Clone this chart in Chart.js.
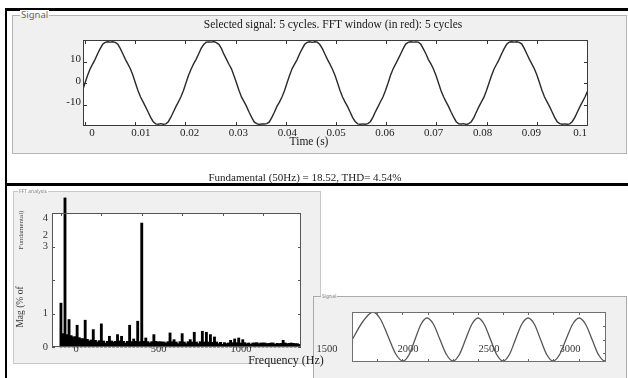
<!DOCTYPE html>
<html><head><meta charset="utf-8">
<script src="https://cdn.jsdelivr.net/npm/chart.js@4.4.1/dist/chart.umd.min.js"></script>
<style>
html,body{margin:0;padding:0;background:#fff;}
#root{position:relative;width:628px;height:378px;overflow:hidden;background:#fff;}
.blk{position:absolute;background:#000;}
.panel{position:absolute;box-sizing:border-box;background:#f0f0f0;}
.txt{position:absolute;white-space:nowrap;font-family:"Liberation Serif","Times New Roman",serif;color:#1a1a1a;transform:translate(-50%,-50%);line-height:1;}
.leg{position:absolute;white-space:nowrap;font-family:"Noto Sans","DejaVu Sans",sans-serif;color:#555;line-height:1;padding:0 1px;}
canvas{position:absolute;}
</style></head><body><div id="root">

<div class="blk" style="left:5px;top:8px;width:623px;height:3px"></div>
<div class="blk" style="left:5px;top:8px;width:2px;height:370px"></div>

<div class="panel" style="left:12px;top:15px;width:615px;height:139px;border:1px solid #b4b4b4;"></div>
<div class="leg" style="left:20px;top:10px;font-size:9.5px;color:#666;background:linear-gradient(#fff 50%,#f0f0f0 50%);">Signal</div>
<canvas id="c1" width="616" height="139" style="left:12px;top:15px;"></canvas>
<div class="txt" style="left:333px;top:25px;font-size:11.5px;">Selected signal: 5 cycles. FFT window (in red): 5 cycles</div>
<div class="txt" style="left:309px;top:142px;font-size:11.5px;">Time (s)</div>
<div class="txt" style="left:305px;top:177px;font-size:11px;">Fundamental (50Hz) = 18.52, THD= 4.54%</div>

<div class="blk" style="left:5px;top:183px;width:623px;height:3px"></div>

<div class="panel" style="left:13px;top:191px;width:308px;height:173px;border:1px solid #c8c8c8;z-index:1;"></div>
<div class="leg" style="left:18px;top:189px;font-size:5px;color:#888;background:linear-gradient(#fff 50%,#f0f0f0 50%);z-index:1;">FFT analysis</div>

<div class="panel" style="left:313px;top:296px;width:314px;height:90px;border:1px solid #aaa;z-index:2;"></div>
<div class="leg" style="left:321px;top:294px;font-size:5px;color:#888;background:linear-gradient(#fff 50%,#f0f0f0 50%);z-index:2;">Signal</div>
<canvas id="c3" width="315" height="82" style="left:313px;top:296px;z-index:3;"></canvas>

<canvas id="c2" width="330" height="179" style="left:13px;top:191px;z-index:4;"></canvas>
<div class="txt" style="left:286px;top:360px;font-size:12px;z-index:5;color:#222;">Frequency (Hz)</div>
<div class="txt" style="left:21px;top:307px;font-size:9.5px;z-index:5;color:#333;transform:translate(-50%,-50%) rotate(-90deg);">Mag (% of</div>
<div class="txt" style="left:21px;top:230px;font-size:7px;z-index:5;color:#444;transform:translate(-50%,-50%) rotate(-90deg);">Fundamental)</div>

</div>
<script>
// ---------- Top chart: selected signal ----------
const signalTimeStart = -0.000503;
const signalTimeStep = 0.000503;
const signalValues = [
 -3.6,
 0.0, 3.5, 6.5, 8.8, 11.0, 13.6, 16.0, 18.0, 18.9, 19.2, 19.0, 19.2, 18.9, 18.0, 16.0, 13.5, 11.0, 8.8, 6.5, 3.5,
 -0.1, -3.6, -6.5, -8.8, -11.1, -13.5, -16.0, -18.0, -19.0, -19.2, -18.9, -19.2, -19.0, -18.0, -15.9, -13.5, -11.0, -8.8, -6.4, -3.5,
 0.1, 3.6, 6.4, 8.9, 11.0, 13.5, 16.1, 17.9, 19.0, 19.1, 19.0, 19.3, 18.8, 18.0, 16.1, 13.4, 11.1, 8.7, 6.6, 3.4,
 0.0, -3.5, -6.6, -8.7, -11.0, -13.6, -16.0, -18.1, -18.9, -19.3, -19.0, -19.1, -18.9, -18.1, -16.0, -13.6, -10.9, -8.9, -6.5, -3.6,
 0.0, 3.5, 6.6, 8.8, 10.9, 13.6, 15.9, 18.0, 18.9, 19.2, 18.9, 19.2, 19.0, 17.9, 16.0, 13.5, 11.0, 8.8, 6.4, 3.6,
 0.1, -3.5, -6.5, -8.9, -11.0, -13.5, -16.1, -17.9, -19.0, -19.2, -19.0, -19.2, -18.9, -18.0, -16.0, -13.4, -11.1, -8.7, -6.5, -3.5,
 -0.1, 3.6, 6.5, 8.8, 11.1, 13.5, 16.0, 18.1, 18.9, 19.2, 19.0, 19.1, 19.0, 18.0, 15.9, 13.6, 10.9, 8.9, 6.5, 3.5,
 0.0, -3.6, -6.4, -8.8, -11.0, -13.6, -15.9, -18.0, -19.0, -19.1, -18.9, -19.3, -18.9, -18.0, -16.1, -13.5, -11.0, -8.8, -6.6, -3.5,
 0.0, 3.5, 6.5, 8.7, 11.0, 13.6, 16.0, 18.0, 19.0, 19.2, 19.0, 19.2, 18.9, 18.1, 16.0, 13.5, 11.0, 8.8, 6.5, 3.6,
 0.1, -3.5, -6.5, -8.8, -11.0, -13.5, -16.0, -18.0, -18.9, -19.2, -19.0, -19.2, -19.0, -17.9, -16.0, -13.5, -11.0, -8.8, -6.5, -3.9
];
const timeTicks = [0, 0.01, 0.02, 0.03, 0.04, 0.05, 0.06, 0.07, 0.08, 0.09, 0.1];
const timeTickLabels = ['0','0.01','0.02','0.03','0.04','0.05','0.06','0.07','0.08','0.09','0.1'];
const signalYTicks = [-10, 0, 10];
const signalYTickLabels = ['-10', '0', '10'];

// ---------- FFT chart ----------
const fftBinHz = [25,50,75,100,125,150,175,200,225,250,275,300,325,350,375,400,425,450,475,500,
 525,550,575,600,625,650,675,700,725,750,775,800,825,850,875,900,925,950,975,1000,
 1025,1050,1075,1100,1125,1150,1175,1200,1225,1250,1275,1300,1325,1350,1375,1400,1425,1450,1475,1500];
const fftMag = [1.31, 4.45, 0.82, 0.30, 0.65, 0.25, 0.80, 0.18, 0.52, 0.15, 0.69, 0.12, 0.32, 0.15, 0.37, 0.32, 0.12, 0.65, 0.24, 0.77,
 3.70, 0.27, 0.12, 0.37, 0.15, 0.15, 0.12, 0.42, 0.22, 0.10, 0.40, 0.10, 0.22, 0.44, 0.10, 0.47, 0.44, 0.37, 0.30, 0.10,
 0.08, 0.10, 0.20, 0.24, 0.27, 0.22, 0.10, 0.08, 0.12, 0.10, 0.12, 0.10, 0.12, 0.08, 0.10, 0.20, 0.10, 0.12, 0.10, 0.08];
const fftFloorHz = [37.5,62.5,87.5,112.5,137.5,162.5,187.5,212.5,237.5,262.5,287.5,312.5,337.5,362.5,387.5,412.5,437.5,462.5,487.5,512.5,
 537.5,562.5,587.5,612.5,637.5,662.5,687.5,712.5,737.5,762.5,787.5,812.5,837.5,862.5,887.5,912.5,937.5,962.5,987.5,1012.5,
 1037.5,1062.5,1087.5,1112.5,1137.5,1162.5,1187.5,1212.5,1237.5,1262.5,1287.5,1312.5,1337.5,1362.5,1387.5,1412.5,1437.5,1462.5,1487.5];
const fftFloorMag = [0.40, 0.37, 0.34, 0.31, 0.28, 0.25, 0.23, 0.21, 0.20, 0.19,
 0.18, 0.17, 0.18, 0.17, 0.18, 0.17, 0.17, 0.16, 0.17, 0.16,
 0.17, 0.16, 0.16, 0.17, 0.16, 0.15, 0.16, 0.16, 0.15, 0.16,
 0.15, 0.16, 0.15, 0.15, 0.16, 0.15, 0.15, 0.14, 0.15, 0.14,
 0.13, 0.12, 0.13, 0.13, 0.12, 0.13, 0.12, 0.12, 0.13, 0.12,
 0.12, 0.11, 0.12, 0.11, 0.11, 0.12, 0.11, 0.11, 0.10];
const fftXTicks = [0, 500, 1000];
const fftXTickLabels = ['0', '500', '1000'];
const fftYTicks = [0, 1, 2, 3, 4];
const fftYLabelValues = [0, 1, 3.35, 3, 3.85];
const fftYLabels = ['0', '1', '2', '3', '4'];
const fftTopTicks = [25, 275, 525, 775, 1025, 1275];

// ---------- Small signal chart ----------
const sig2X = [1654, 1719, 1784, 1830, 1877, 1923, 1969, 2006, 2043, 2080, 2117, 2157, 2197, 2238, 2278, 2316, 2355, 2394, 2432, 2470,
 2509, 2548, 2586, 2625, 2663, 2702, 2741, 2780, 2818, 2857, 2895, 2935, 2975, 3016, 3056, 3096, 3136, 3176, 3216, 3222];
const sig2Y = [-0.12, 0.6, 1.0, 0.71, 0.02, -0.67, -0.96, -0.71, -0.10, 0.51, 0.76, 0.51, -0.10, -0.71, -0.96, -0.71, -0.10, 0.51, 0.76, 0.51,
 -0.10, -0.71, -0.96, -0.71, -0.10, 0.51, 0.76, 0.51, -0.10, -0.71, -0.96, -0.71, -0.10, 0.51, 0.76, 0.51, -0.10, -0.71, -0.96, -0.95];
const sig2XTicks = [1500, 2000, 2500, 3000];
const sig2XTickLabels = ['1500', '2000', '2500', '3000'];
const sig2TopTicks = [1809, 1963, 2123, 2278, 2432, 2586, 2741, 2895, 3056, 3216];
const sig2RightTicks = [1, 0.45, -0.1, -0.65];

// ---------- decoration plugin (MATLAB-like boxed axes) ----------
function makeDecor(cfg) {
  return {
    id: 'decor',
    beforeDraw(chart) {
      const a = chart.chartArea, c = chart.ctx;
      c.save(); c.fillStyle = '#fff';
      c.fillRect(a.left, a.top, a.right - a.left, a.bottom - a.top);
      c.restore();
    },
    beforeDatasetsDraw(chart) {
      const a = chart.chartArea, c = chart.ctx;
      c.save();
      (cfg.labels || []).forEach(g => {
        const s = chart.scales[g.scale];
        c.font = g.font; c.fillStyle = g.color || '#222'; c.textBaseline = 'middle';
        g.values.forEach((v, i) => {
          let x, y;
          if (g.side === 'bottom') { x = s.getPixelForValue(v); y = a.bottom + g.offset; c.textAlign = 'center'; }
          else { y = s.getPixelForValue(v) + (g.dy || 0); x = a.left + g.offset; c.textAlign = 'right'; }
          c.fillText(g.texts[i], x, y);
        });
      });
      c.restore();
    },
    afterDatasetsDraw(chart) {
      const a = chart.chartArea, c = chart.ctx;
      c.save();
      c.strokeStyle = cfg.tickColor || '#333'; c.lineWidth = 1;
      (cfg.ticks || []).forEach(t => {
        const s = chart.scales[t.scale];
        t.values.forEach(v => {
          const p = Math.round(s.getPixelForValue(v)) + 0.5;
          c.beginPath();
          if (t.side === 'bottom') { c.moveTo(p, a.bottom); c.lineTo(p, a.bottom - t.len); }
          if (t.side === 'top') { c.moveTo(p, a.top); c.lineTo(p, a.top + t.len); }
          if (t.side === 'left') { c.moveTo(a.left, p); c.lineTo(a.left + t.len, p); }
          if (t.side === 'right') { c.moveTo(a.right, p); c.lineTo(a.right - t.len, p); }
          c.stroke();
        });
      });
      c.strokeStyle = cfg.borderColor || '#333'; c.lineWidth = cfg.borderWidth || 1;
      c.strokeRect(Math.round(a.left) + 0.5, Math.round(a.top) + 0.5, Math.round(a.right - a.left) - 1, Math.round(a.bottom - a.top) - 1);
      c.restore();
    }
  };
}

const common = {
  responsive: false, animation: false, devicePixelRatio: 1, events: [],
  plugins: { legend: { display: false }, tooltip: { enabled: false }, title: { display: false } }
};
const serif = '"Liberation Serif","Times New Roman",serif';

// Chart 1
new Chart(document.getElementById('c1'), {
  type: 'line',
  data: { datasets: [{
    data: signalValues.map((v, i) => ({ x: signalTimeStart + i * signalTimeStep, y: v })),
    borderColor: '#2a2a2a', borderWidth: 1.4, pointRadius: 0, tension: 0, fill: false
  }] },
  options: Object.assign({}, common, {
    layout: { padding: { left: 71, top: 25, right: 40, bottom: 28 } },
    scales: {
      x: { type: 'linear', display: false, min: -0.0004, max: 0.1002 },
      xl: { type: 'linear', axis: 'x', display: false, min: -0.00184, max: 0.1016 },
      y: { type: 'linear', display: false, min: -20, max: 20 }
    }
  }),
  plugins: [makeDecor({
    borderColor: '#3a3a3a', tickColor: '#333',
    ticks: [
      { scale: 'x', values: timeTicks, side: 'bottom', len: 4 },
      { scale: 'x', values: timeTicks, side: 'top', len: 4 },
      { scale: 'y', values: signalYTicks, side: 'left', len: 4 },
      { scale: 'y', values: signalYTicks, side: 'right', len: 4 }
    ],
    labels: [
      { scale: 'xl', side: 'bottom', offset: 7, values: timeTicks, texts: timeTickLabels, font: '11px ' + serif, color: '#222' },
      { scale: 'y', side: 'left', offset: -2, dy: -2, values: signalYTicks, texts: signalYTickLabels, font: '11px ' + serif, color: '#222' }
    ]
  })]
});

// Chart 2 (FFT)
new Chart(document.getElementById('c2'), {
  type: 'bar',
  data: { datasets: [
    { data: fftFloorHz.map((f, i) => ({ x: f, y: fftFloorMag[i] })), backgroundColor: '#000', borderWidth: 0,
      barThickness: 2.5, grouped: false, xAxisID: 'xb', yAxisID: 'y' },
    { data: fftBinHz.map((f, i) => ({ x: f, y: fftMag[i] })), backgroundColor: '#000', borderWidth: 0,
      barThickness: 2.2, grouped: false, xAxisID: 'xb', yAxisID: 'y', clip: false }
  ] },
  options: Object.assign({}, common, {
    layout: { padding: { left: 39, top: 22, right: 42, bottom: 23 } },
    scales: {
      xb: { type: 'linear', axis: 'x', display: false, min: -30.4, max: 1510.4, offset: false },
      x: { type: 'linear', axis: 'x', display: false, min: -145.5, max: 1363.6, offset: false },
      y: { type: 'linear', display: false, min: 0, max: 4 }
    }
  }),
  plugins: [makeDecor({
    borderColor: '#555', tickColor: '#555',
    ticks: [
      { scale: 'xb', values: fftTopTicks, side: 'top', len: 3 },
      { scale: 'y', values: fftYTicks, side: 'left', len: 3 },
      { scale: 'y', values: fftYTicks, side: 'right', len: 3 }
    ],
    labels: [
      { scale: 'x', side: 'bottom', offset: 2, values: fftXTicks, texts: fftXTickLabels, font: '10.5px ' + serif, color: '#333' },
      { scale: 'y', side: 'left', offset: -4, dy: 0, values: fftYLabelValues, texts: fftYLabels, font: '10.5px ' + serif, color: '#333' }
    ]
  })]
});

// Chart 3 (small signal)
new Chart(document.getElementById('c3'), {
  type: 'line',
  data: { datasets: [{
    data: sig2X.map((x, i) => ({ x: x, y: sig2Y[i] })),
    borderColor: '#555', borderWidth: 1.3, pointRadius: 0, cubicInterpolationMode: 'monotone', fill: false
  }] },
  options: Object.assign({}, common, {
    layout: { padding: { left: 39, top: 16, right: 22, bottom: 16 } },
    scales: {
      x: { type: 'linear', display: false, min: 1654, max: 3222 },
      y: { type: 'linear', display: false, min: -1, max: 1 }
    }
  }),
  plugins: [makeDecor({
    borderColor: '#707070', tickColor: '#666',
    ticks: [
      { scale: 'x', values: sig2TopTicks, side: 'top', len: 3 },
      { scale: 'x', values: sig2TopTicks, side: 'bottom', len: 3 },
      { scale: 'y', values: sig2RightTicks, side: 'right', len: 3 }
    ],
    labels: [
      { scale: 'x', side: 'bottom', offset: -13, values: sig2XTicks, texts: sig2XTickLabels, font: '10.5px ' + serif, color: '#333' }
    ]
  })]
});
</script>
</body></html>
